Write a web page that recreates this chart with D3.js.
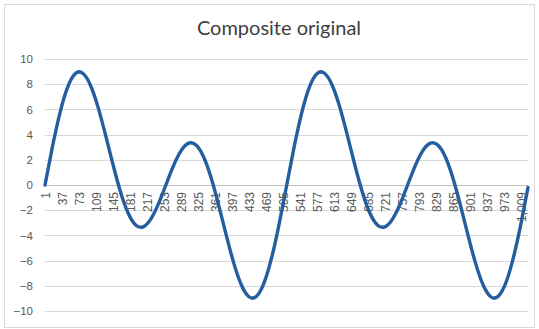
<!DOCTYPE html>
<html>
<head>
<meta charset="utf-8">
<script src="https://cdn.jsdelivr.net/npm/d3@7"></script>
<style>
  body { margin: 0; background: #fff; }
  svg { display: block; font-family: Lato, "Liberation Sans", sans-serif; }
</style>
</head>
<body>
<svg id="chart"></svg>
<script>
'use strict';

// Chart title
var chartTitle = 'Composite original';

// Number of categories on the x axis (1..1024)
var categoryCount = 1024;

// Category labels shown on the x axis
var xTickLabels = [1, 37, 73, 109, 145, 181, 217, 253, 289, 325, 361, 397, 433, 469, 505,
  541, 577, 613, 649, 685, 721, 757, 793, 829, 865, 901, 937, 973, 1009];

// Y axis tick values
var yTicks = [-10, -8, -6, -4, -2, 0, 2, 4, 6, 8, 10];

// Sample categories
var sampleCategories = [1, 17, 33, 49, 65, 81, 97, 113, 129, 145, 161, 177, 193, 209, 225, 241,
  257, 273, 289, 305, 321, 337, 353, 369, 385, 401, 417, 433, 449, 465, 481, 497,
  513, 529, 545, 561, 577, 593, 609, 625, 641, 657, 673, 689, 705, 721, 737, 753,
  769, 785, 801, 817, 833, 849, 865, 881, 897, 913, 929, 945, 961, 977, 993, 1009, 1024];

// Values read at those categories
var sampleValues = [0, 3.08, 5.77, 7.77, 8.83, 8.87, 7.94, 6.22, 4.0, 1.63, -0.55, -2.22, -3.17, -3.32, -2.71, -1.52,
  0, 1.52, 2.71, 3.32, 3.17, 2.22, 0.55, -1.63, -4.0, -6.22, -7.94, -8.87, -8.83, -7.77, -5.77, -3.08,
  0, 3.08, 5.77, 7.77, 8.83, 8.87, 7.94, 6.22, 4.0, 1.63, -0.55, -2.22, -3.17, -3.32, -2.71, -1.52,
  0, 1.52, 2.71, 3.32, 3.17, 2.22, 0.55, -1.63, -4.0, -6.22, -7.94, -8.87, -8.83, -7.77, -5.77, -3.08, -0.2];

var width = 539;
var height = 329;
var margin = { top: 59, right: 11, bottom: 18, left: 45 };

var svg = d3.select('#chart').attr('width', width).attr('height', height);

// Outer chart border
svg.append('rect')
  .attr('x', 4.5).attr('y', 4.5)
  .attr('width', width - 9).attr('height', height - 6)
  .attr('fill', '#fff').attr('stroke', '#d9d9d9').attr('stroke-width', 1);

var x = d3.scaleLinear().domain([1, categoryCount]).range([margin.left, width - margin.right]);
var y = d3.scaleLinear().domain([-10, 10]).range([height - margin.bottom, margin.top]);

//Gridlines
svg.append('g')
  .selectAll('line')
  .data(yTicks)
  .enter().append('line')
  .attr('x1', margin.left).attr('x2', width - margin.right)
  .attr('y1', function (d) { return Math.round(y(d)) + 0.5; })
  .attr('y2', function (d) { return Math.round(y(d)) + 0.5; })
  .attr('stroke', function (d) { return d === 0 ? '#bfbfbf' : '#d9d9d9'; })
  .attr('stroke-width', 1);

//Y axis labels
var yAxis = d3.axisLeft(y).tickValues(yTicks).tickSize(0).tickPadding(12);
svg.append('g')
  .attr('transform', 'translate(' + margin.left + ',0)')
  .call(yAxis)
  .call(function (g) { g.select('.domain').remove(); })
  .selectAll('text')
  .attr('fill', '#595959')
  .style('font-size', '11.5px');

//X axis labels (rotated, sitting on the zero line)
var xAxis = d3.axisBottom(x).tickValues(xTickLabels).tickSize(0).tickPadding(0);
var xg = svg.append('g')
  .attr('transform', 'translate(0,' + y(0) + ')')
  .call(xAxis);
xg.select('.domain').remove();
xg.selectAll('text')
  .attr('fill', '#595959')
  .style('font-size', '12px')
  .attr('transform', 'rotate(-90)')
  .attr('text-anchor', 'end')
  .attr('x', -7)
  .attr('y', 0)
  .attr('dy', '0.35em');

//Line
var line = d3.line()
  .x(function (d, i) { return x(sampleCategories[i]); })
  .y(function (d) { return y(d); })
  .curve(d3.curveNatural);

svg.append('path')
  .datum(sampleValues)
  .attr('d', line)
  .attr('fill', 'none')
  .attr('stroke', '#255e9e')
  .attr('stroke-width', 3.4)
  .attr('stroke-linejoin', 'round')
  .attr('stroke-linecap', 'round');

//Title
svg.append('text')
  .attr('x', 279).attr('y', 35)
  .attr('text-anchor', 'middle')
  .attr('fill', '#404040')
  .style('font-size', '20px')
  .text(chartTitle);
</script>
</body>
</html>
